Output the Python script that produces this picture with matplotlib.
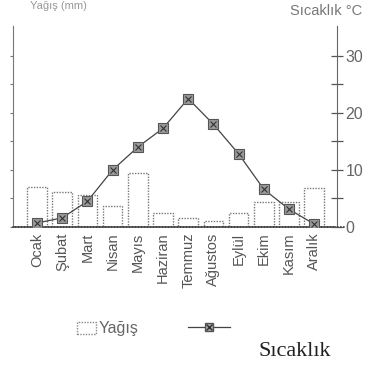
import matplotlib
matplotlib.use("Agg")
import matplotlib.pyplot as plt
import numpy as np
from matplotlib.lines import Line2D
from matplotlib.patches import Rectangle
from matplotlib import font_manager

months = ['Ocak', 'Şubat', 'Mart', 'Nisan', 'Mayıs', 'Haziran', 'Temmuz',
          'Ağustos', 'Eylül', 'Ekim', 'Kasım', 'Aralık']
yagis = [7.0, 6.1, 5.6, 3.7, 9.4, 2.4, 1.6, 1.0, 2.4, 4.4, 4.4, 6.8]
sicaklik = [0.7, 1.6, 4.5, 10.0, 14.0, 17.3, 22.5, 18.0, 12.8, 6.6, 3.1, 0.5]
right_ticks = [0, 5, 10, 15, 20, 25, 30]
right_labels = ['0', '', '10', '', '20', '', '30']

plt.rcParams['font.family'] = ['Liberation Sans', 'DejaVu Sans']
names = {f.name for f in font_manager.fontManager.ttflist}
narrow = 'Liberation Sans Narrow' if 'Liberation Sans Narrow' in names else 'Liberation Sans'

W, H = 383, 368
fig = plt.figure(figsize=(W / 100, H / 100), dpi=100)
fig.patch.set_facecolor('white')

ax = fig.add_axes([13 / W, 1 - 227 / H, (337 - 13) / W, (227 - 25) / H])
x = np.arange(len(months))
ax.bar(x, yagis, width=0.78, facecolor='white', edgecolor='#777777',
       linewidth=1.0, linestyle=(0, (1, 1)), zorder=2)
ax.plot(x, sicaklik, color='#444444', linewidth=0.9, zorder=3)
ax.plot(x, sicaklik, linestyle='none', marker='s', markersize=6.5,
        markerfacecolor='#999999', markeredgecolor='#555555', markeredgewidth=0.8, zorder=4)
ax.plot(x, sicaklik, linestyle='none', marker='x', markersize=4.5,
        color='#333333', markeredgewidth=0.8, zorder=5)

ax.set_xlim(-0.95, 11.9)
ax.set_ylim(0, 35.4)
ax.set_xticks(x)
ax.set_xticklabels(months, rotation=90, fontsize=11.5 if narrow != 'Liberation Sans' else 10.5,
                   family=[narrow, 'DejaVu Sans'], color='#555555', va='top')
ax.tick_params(axis='x', length=0, pad=4)
ax.set_yticks(right_ticks)
ax.set_yticklabels([])
ax.tick_params(axis='y', direction='out', length=2.5, width=0.8, color='#777777')

for s in ['top', 'right']:
    ax.spines[s].set_visible(False)
ax.spines['left'].set_linestyle((0, (1, 1)))
ax.spines['left'].set_color('#777777')
ax.spines['bottom'].set_linestyle((0, (1, 0.8)))
ax.spines['bottom'].set_color('#444444')
ax.spines['bottom'].set_linewidth(1.2)

ax2 = ax.twinx()
ax2.set_ylim(0, 35.4)
ax2.set_yticks(right_ticks)
ax2.set_yticklabels(right_labels, fontsize=11.5, color='#666666')
ax2.tick_params(axis='y', direction='inout', length=8, width=0.9, color='#555555', pad=2)
for s in ['top', 'left', 'bottom']:
    ax2.spines[s].set_visible(False)
ax2.spines['right'].set_linestyle((0, (1, 1)))
ax2.spines['right'].set_color('#666666')

# extended baseline towards the "0" label
fig.add_artist(Line2D([337 / W, 345 / W], [1 - 227 / H, 1 - 227 / H],
                      color='#444444', linestyle=(0, (1, 0.8)), linewidth=1.2))

fig.text(290 / W, 1 - 11 / H, 'Sıcaklık °C', fontsize=10.5, color='#777777', va='center', ha='left')
fig.text(30 / W, 1 - 1 / H, 'Yağış (mm)', fontsize=8, color='#999999', va='top', ha='left')

# legend
fig.add_artist(Rectangle((77 / W, 1 - 334 / H), 19 / W, 12 / H, transform=fig.transFigure,
                         facecolor='white', edgecolor='#888888', linestyle=(0, (1, 1)), linewidth=1))
fig.text(99 / W, 1 - 328 / H, 'Yağış', fontsize=11.5, color='#666666', va='center', ha='left')
fig.add_artist(Line2D([188 / W, 230 / W], [1 - 327 / H, 1 - 327 / H], color='#444444', linewidth=0.9))
fig.add_artist(Line2D([209 / W], [1 - 327 / H], marker='s', markersize=6,
                      markerfacecolor='#aaaaaa', markeredgecolor='#555555', linestyle='none'))
fig.add_artist(Line2D([209 / W], [1 - 327 / H], marker='x', markersize=4,
                      color='#333333', linestyle='none'))
fig.text(258 / W, 1 - 352 / H, 'Sıcaklık', fontsize=16, family=['Liberation Serif', 'DejaVu Serif'],
         color='#222222', va='center', ha='left')

fig.savefig('out.png', dpi=100, facecolor='white')
